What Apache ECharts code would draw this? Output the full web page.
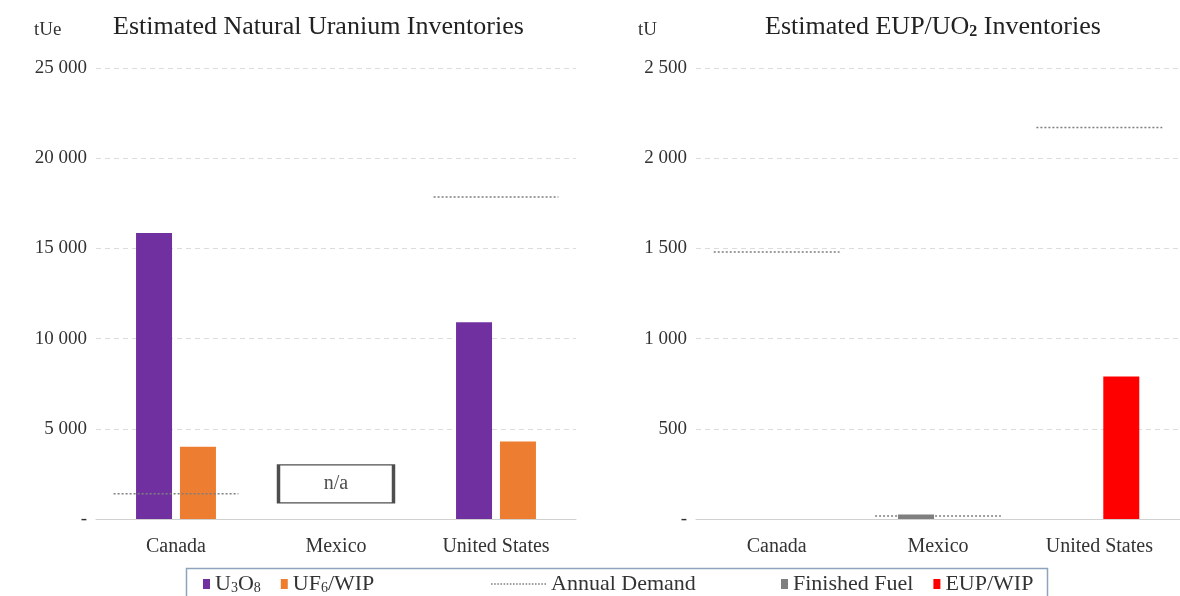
<!DOCTYPE html>
<html>
<head>
<meta charset="utf-8">
<script src="https://cdn.jsdelivr.net/npm/echarts@6/dist/echarts.min.js"></script>
<style>
  html, body { margin: 0; padding: 0; background: #fff; }
  #chart { width: 1180px; height: 596px; }
</style>
</head>
<body>
<div id="chart"></div>
<script>
var countries = ['Canada', 'Mexico', 'United States'];

// natural uranium inventories (tUe)
var u3o8 = [15850, null, 10900];
var uf6Wip = [4000, null, 4300];
var demandNatural = [1400, null, 17850];
var naBox = [null, 1950, null];

// EUP / UO2 inventories (tU)
var finishedFuel = [null, 25, null];
var eupWip = [null, null, 790];
var demandEup = [1480, 17, 2170];

window.onload = function () {
    var myChart = echarts.init(document.getElementById('chart'));
    var font = 'Liberation Serif';

    function fmt(v) {
        if (v === 0) return '-';
        return String(v).replace(/\B(?=(\d{3})+(?!\d))/g, ' ');
    }

    // short horizontal dotted line per category
    function demandItem(params, api) {
        var v = api.value(1);
        if (isNaN(v)) return null;
        var c = api.coord([api.value(0), v]);
        var w = api.size([1, 0])[0] * 0.78;
        return {
            type: 'line',
            shape: { x1: c[0] - w / 2, y1: c[1], x2: c[0] + w / 2, y2: c[1] },
            style: { stroke: '#7f7f7f', lineWidth: 1.5, lineDash: [2, 2] }
        };
    }

    function pairs(arr) {
        var out = [];
        arr.forEach(function (v, i) { if (v != null) out.push([i, v]); });
        return out;
    }

    var dots = 'path://';
    for (var i = 0; i < 18; i++) dots += 'M' + (i * 2) + ',0h1v1h-1z ';

    var rich = {
        s: { fontSize: 14, fontFamily: font, color: '#333', padding: [9, 0, 0, 0] },
        ts: { fontSize: 16, fontFamily: font, color: '#222', padding: [10, 0, 0, 0] },
        t: { fontSize: 26, fontFamily: font, fontWeight: 'normal', color: '#222' },
        l: { fontSize: 22, fontFamily: font, color: '#333' }
    };

    var legendNames = {
        'U3O8': '{l|U}{s|3}{l|O}{s|8}',
        'UF6/WIP': '{l|UF}{s|6}{l|/WIP}'
    };
    var legendBase = {
        orient: 'horizontal',
        top: 568,
        itemWidth: 7,
        itemHeight: 10,
        itemGap: 20,
        icon: 'rect',
        selectedMode: false,
        formatter: function (n) { return legendNames[n] || ('{l|' + n + '}'); },
        textStyle: { fontFamily: font, fontSize: 22, color: '#333', rich: rich }
    };

    var catAxis = function (idx) {
        return {
            type: 'category',
            gridIndex: idx,
            data: countries,
            axisTick: { show: false },
            axisLine: { lineStyle: { color: '#d0d0d0' } },
            axisLabel: { fontFamily: font, fontSize: 20, color: '#333', margin: 18 }
        };
    };
    var valAxis = function (idx, max, step) {
        return {
            type: 'value',
            gridIndex: idx,
            min: 0,
            max: max,
            interval: step,
            axisLine: { show: false },
            axisTick: { show: false },
            splitLine: { lineStyle: { color: '#dcdcdc', type: [5, 4] } },
            axisLabel: { fontFamily: font, fontSize: 19, color: '#333', margin: 9, formatter: fmt }
        };
    };

    var option = {
        backgroundColor: '#fff',
        animation: false,
        title: [
            { text: '{t|Estimated Natural Uranium Inventories}', left: 108, top: 9, textStyle: { rich: rich } },
            { text: '{t|Estimated EUP/UO}{ts|2}{t| Inventories}', left: 760, top: 9, textStyle: { rich: rich } },
            { text: 'tUe', left: 29, top: 16, textStyle: { fontFamily: font, fontSize: 19, fontWeight: 'normal', color: '#333' } },
            { text: 'tU', left: 633, top: 16, textStyle: { fontFamily: font, fontSize: 19, fontWeight: 'normal', color: '#333' } }
        ],
        legend: [
            Object.assign({}, legendBase, { left: 198, data: ['U3O8', 'UF6/WIP'] }),
            Object.assign({}, legendBase, { left: 486, data: [{ name: 'Annual Demand', icon: dots }], itemWidth: 55, itemHeight: 2 }),
            Object.assign({}, legendBase, { left: 776, data: ['Finished Fuel', 'EUP/WIP'] })
        ],
        graphic: [{
            type: 'rect',
            left: 184, top: 566,
            shape: { width: 861, height: 29 },
            style: { fill: 'none', stroke: '#8da4bd', lineWidth: 1.5 }
        }],
        grid: [
            { left: 96, right: 604, top: 68, bottom: 77 },
            { left: 696, right: 0, top: 68, bottom: 77 }
        ],
        xAxis: [catAxis(0), catAxis(1)],
        yAxis: [valAxis(0, 25000, 5000), valAxis(1, 2500, 500)],
        series: [
            { name: 'U3O8', type: 'bar', xAxisIndex: 0, yAxisIndex: 0, data: u3o8, barWidth: 36, barGap: '22%', itemStyle: { color: '#7030a0' } },
            { name: 'UF6/WIP', type: 'bar', xAxisIndex: 0, yAxisIndex: 0, data: uf6Wip, barWidth: 36, barGap: '22%', itemStyle: { color: '#ed7d31' } },
            { name: 'Annual Demand', type: 'custom', xAxisIndex: 0, yAxisIndex: 0, data: pairs(demandNatural), renderItem: demandItem, itemStyle: { color: '#7f7f7f' }, z: 5 },
            {
                name: 'n/a', type: 'scatter', xAxisIndex: 0, yAxisIndex: 0, data: naBox,
                symbol: 'rect', symbolSize: [115, 38],
                itemStyle: { color: '#fff', borderColor: '#222', borderWidth: 2 },
                label: { show: true, position: 'inside', formatter: 'n/a', fontFamily: font, fontSize: 20, color: '#222' },
                z: 6
            },
            { name: 'Finished Fuel', type: 'bar', xAxisIndex: 1, yAxisIndex: 1, data: finishedFuel, barWidth: 36, barGap: '22%', itemStyle: { color: '#7f7f7f' } },
            { name: 'EUP/WIP', type: 'bar', xAxisIndex: 1, yAxisIndex: 1, data: eupWip, barWidth: 36, barGap: '22%', itemStyle: { color: '#ff0000' } },
            { name: 'Annual Demand', type: 'custom', xAxisIndex: 1, yAxisIndex: 1, data: pairs(demandEup), renderItem: demandItem, itemStyle: { color: '#7f7f7f' }, z: 5 }
        ]
    };

    myChart.setOption(option);
};
</script>
</body>
</html>
